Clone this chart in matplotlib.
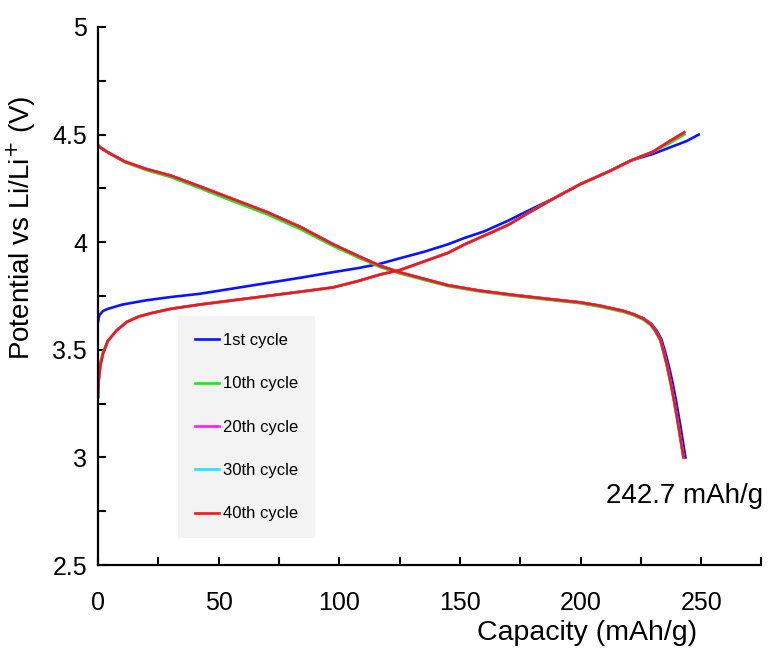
import matplotlib
matplotlib.use("Agg")
import matplotlib.pyplot as plt
from matplotlib.ticker import MultipleLocator

plt.rcParams["font.family"] = ["Liberation Sans", "DejaVu Sans"]

# charge branches (capacity mAh/g, potential V)
cap_ch_1 = [0, 0.5, 2, 4, 10, 20, 30, 42, 56, 70, 84, 97, 108, 117, 125, 135, 145, 152,
            160, 170, 179, 190, 200, 212, 221, 230, 237, 244, 249]
v_ch_1 = [3.63, 3.66, 3.68, 3.69, 3.71, 3.73, 3.745, 3.76, 3.785, 3.81, 3.835, 3.86, 3.88,
          3.90, 3.925, 3.955, 3.99, 4.02, 4.05, 4.10, 4.15, 4.21, 4.27, 4.33, 4.38, 4.41,
          4.44, 4.47, 4.50]

cap_ch_40 = [0, 0.3, 1, 2, 4, 7.7, 12, 17, 22, 30, 42, 56, 70, 84, 97.5, 108, 117, 125,
             135, 145, 152, 160, 170, 179, 190, 200, 212, 221, 230, 237, 243]
v_ch_40 = [3.28, 3.36, 3.43, 3.48, 3.54, 3.59, 3.63, 3.655, 3.67, 3.69, 3.71, 3.73, 3.75,
           3.77, 3.79, 3.82, 3.85, 3.87, 3.91, 3.95, 3.99, 4.03, 4.08, 4.14, 4.21, 4.27,
           4.33, 4.38, 4.42, 4.47, 4.51]
v_ch_10 = [3.30, 3.37, 3.44, 3.49, 3.54, 3.59, 3.63, 3.655, 3.67, 3.69, 3.71, 3.73, 3.75,
           3.77, 3.79, 3.82, 3.85, 3.87, 3.91, 3.95, 3.99, 4.03, 4.08, 4.14, 4.21, 4.27,
           4.33, 4.38, 4.42, 4.46, 4.50]

# discharge branches
cap_dis = [0, 1, 3.7, 11, 20, 30, 42, 56, 70, 84, 97.5, 108, 117, 125, 135, 145, 158, 172,
           186, 200, 208, 214, 218, 222, 226, 229, 231, 233, 234.5, 236, 237.5, 238.7,
           240.7, 242.7]
v_dis_40 = [4.45, 4.44, 4.42, 4.375, 4.34, 4.31, 4.26, 4.20, 4.14, 4.07, 3.99, 3.935,
            3.89, 3.86, 3.83, 3.80, 3.775, 3.755, 3.737, 3.72, 3.705, 3.69, 3.68, 3.665,
            3.645, 3.62, 3.59, 3.55, 3.49, 3.42, 3.34, 3.27, 3.14, 3.00]
v_dis_10 = [4.45, 4.44, 4.42, 4.372, 4.335, 4.303, 4.252, 4.19, 4.13, 4.06, 3.982, 3.928,
            3.884, 3.855, 3.825, 3.796, 3.771, 3.751, 3.733, 3.716, 3.70, 3.685, 3.675,
            3.66, 3.64, 3.615, 3.585, 3.545, 3.485, 3.415, 3.335, 3.265, 3.135, 3.00]
cap_dis_1 = [0, 1, 3.7, 11, 20, 30, 42, 56, 70, 84, 97.5, 108, 117, 125, 135, 145, 158, 172,
             186, 200, 208, 214, 218, 222, 226.3, 229.4, 231.5, 233.5, 235.1, 236.7, 238.3,
             239.5, 241.5, 243.5]

labels = ["1st cycle", "10th cycle", "20th cycle", "30th cycle", "40th cycle"]
colors = ["#0a14ff", "#1ee61e", "#ff1eff", "#1ee6ff", "#ff1414"]

series = [
    (cap_ch_1, v_ch_1, cap_dis_1, v_dis_40),
    (cap_ch_40, v_ch_10, cap_dis, v_dis_10),
    (cap_ch_40, v_ch_40, cap_dis, v_dis_40),
    (cap_ch_40, v_ch_40, cap_dis, v_dis_40),
    (cap_ch_40, v_ch_40, cap_dis, v_dis_40),
]

fig = plt.figure(figsize=(7.75, 6.55), dpi=100)
ax = fig.add_axes([0.1265, 0.1374, 0.856, 0.8214])

for (cc, vc, cd, vd), lab, col in zip(series, labels, colors):
    ax.plot(cc, vc, color=col, lw=1.9, label=lab)
    ax.plot(cd, vd, color=col, lw=1.9)

ax.set_xlim(0, 275)
ax.set_ylim(2.5, 5)
ax.xaxis.set_minor_locator(MultipleLocator(25))
ax.yaxis.set_minor_locator(MultipleLocator(0.25))
ax.set_xticks([0, 50, 100, 150, 200, 250])
ax.set_xticklabels(["0", "50", "100", "150", "200", "250"])
ax.set_yticks([2.5, 3, 3.5, 4, 4.5, 5])
ax.set_yticklabels(["2.5", "3", "3.5", "4", "4.5", "5"])
ax.tick_params(which="both", direction="in", width=1.5, length=6, labelsize=18)
ax.tick_params(axis="x", which="both", pad=19)
ax.tick_params(axis="y", which="both", pad=8)
for s in ("top", "right"):
    ax.spines[s].set_visible(False)
for s in ("left", "bottom"):
    ax.spines[s].set_linewidth(1.6)

ax.set_xlabel("Capacity (mAh/g)", fontsize=20.5)
ax.xaxis.set_label_coords(0.7375, -0.103)
ax.set_ylabel("Potential vs Li/Li$^{+}$ (V)", fontsize=20)
ax.yaxis.set_label_coords(-0.09, 0.626)

ax.text(0.765, 0.128, "242.7 mAh/g", fontsize=20, ha="left", va="center",
        transform=ax.transAxes)

leg = ax.legend(loc="upper left", bbox_to_anchor=(0.121, 0.462), fontsize=12,
                frameon=True, fancybox=False, handlelength=1.45, handletextpad=0.25,
                labelspacing=1.7, borderpad=1.0, borderaxespad=0)
leg.get_frame().set_facecolor("#f3f3f3")
leg.get_frame().set_edgecolor("none")
leg.get_frame().set_alpha(1)

fig.savefig("out.png", dpi=100)
